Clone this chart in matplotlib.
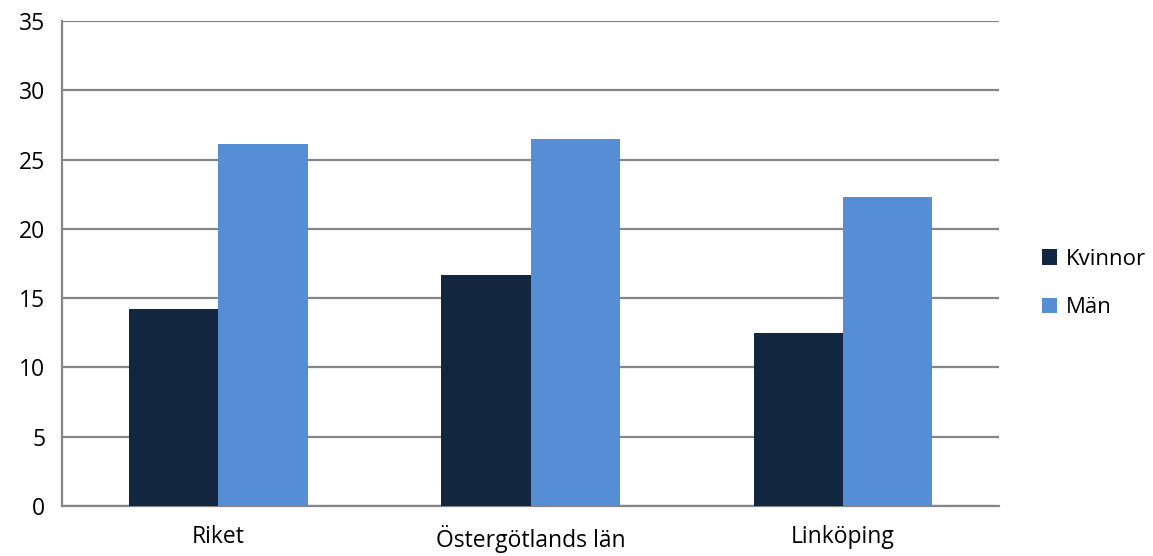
import numpy as np
import matplotlib
matplotlib.use("Agg")
import matplotlib.pyplot as plt

plt.rcParams['font.family'] = ['Open Sans', 'DejaVu Sans']

categories = ['Riket', 'Östergötlands län', 'Linköping']
kvinnor = [14.2, 16.7, 12.5]
man = [26.1, 26.5, 22.3]
series_names = ['Kvinnor', 'Män']

fig = plt.figure(figsize=(11.53, 5.56), dpi=100)
ax = fig.add_axes([0.0538, 0.0899, 0.8127, 0.8723])

x = np.arange(len(categories))
w = 0.286
ax.bar(x - w / 2, kvinnor, w, color='#12263f', label=series_names[0], zorder=3)
ax.bar(x + w / 2, man, w, color='#558ed5', label=series_names[1], zorder=3)

ax.set_xlim(-0.5, 2.5)
ax.set_ylim(0, 35)
ax.set_yticks(range(0, 36, 5))
ax.set_xticks(x)
ax.set_xticklabels(categories)
ax.yaxis.grid(True, color='#868686', linewidth=1.6, zorder=0)
ax.tick_params(length=0, labelsize=16.5, colors='black')
ax.tick_params(axis='x', pad=13.5)
ax.tick_params(axis='y', pad=12)

for s in ['top', 'right']:
    ax.spines[s].set_visible(False)
for s in ['left', 'bottom']:
    ax.spines[s].set_color('#868686')
    ax.spines[s].set_linewidth(1.6)

ax.legend(loc='center left', bbox_to_anchor=(0.894, 0.49), bbox_transform=fig.transFigure,
          frameon=False, fontsize=16, handlelength=0.7, handleheight=0.7,
          handletextpad=0.4, labelspacing=1.25, borderpad=0)

fig.savefig('out.png', dpi=100)
